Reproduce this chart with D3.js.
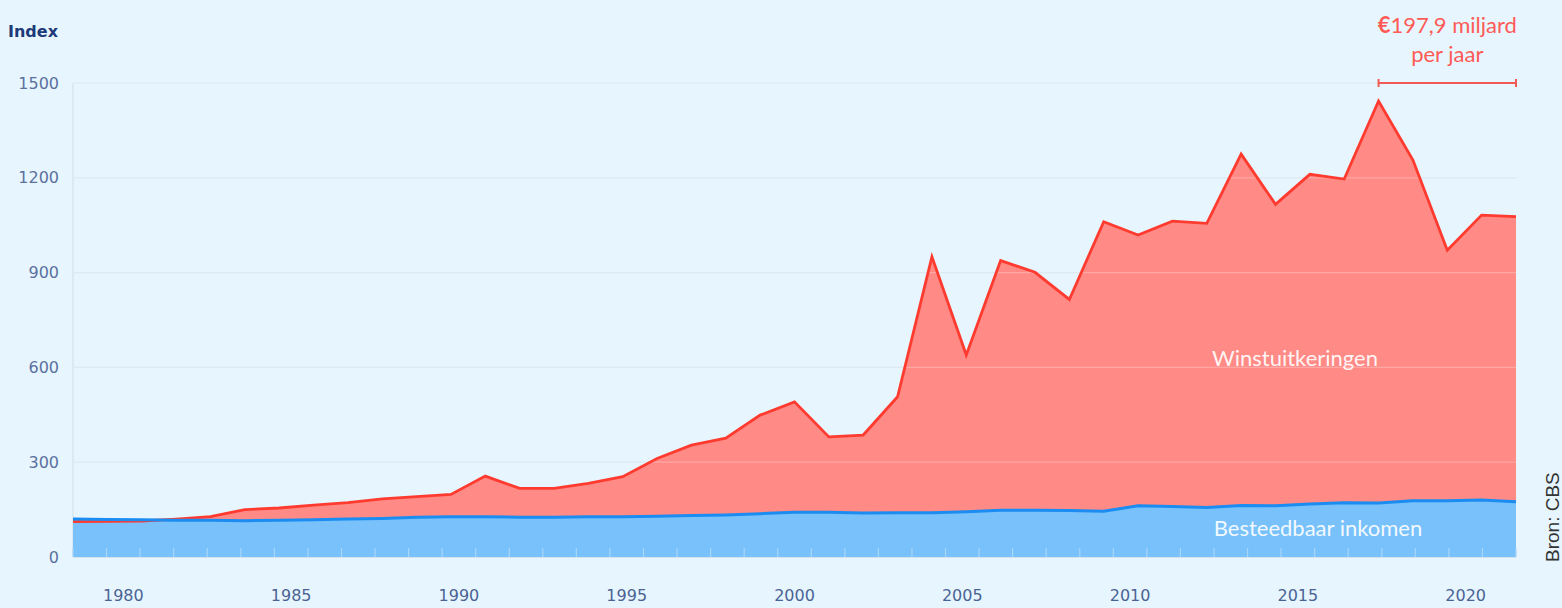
<!DOCTYPE html>
<html><head><meta charset="utf-8">
<script src="https://cdn.jsdelivr.net/npm/d3@7"></script>
<style>html,body{margin:0;padding:0;background:#e7f6fe;} svg{display:block}</style>
</head><body><svg id="c" width="1562" height="608"></svg>
<script>
const years = [1979,1980,1981,1982,1983,1984,1985,1986,1987,1988,1989,1990,1991,1992,1993,1994,1995,1996,1997,1998,1999,2000,2001,2002,2003,2004,2005,2006,2007,2008,2009,2010,2011,2012,2013,2014,2015,2016,2017,2018,2019,2020,2021];
const winstuitkeringen = [112,113,114,120,128,150,155,164,172,184,191,198,256,217,217,233,254,312,354,376,449,491,380,386,507,950,639,938,901,815,1061,1019,1063,1056,1275,1116,1211,1196,1443,1256,971,1082,1077];
const besteedbaar = [120,119,118,116,116,115,116,118,120,122,126,127,127,126,126,127,127,129,131,133,137,142,142,139,140,140,143,148,148,147,145,162,160,157,163,162,168,172,171,178,178,180,175];
const yTicks = [0,300,600,900,1200,1500];
const xLabels = [1980,1985,1990,1995,2000,2005,2010,2015,2020];
const bracketYears = [2017,2021];
const bracketValue = 1500;

const svg = d3.select('#c');
const L = 73, R = 1516, T = 83, B = 557;
const x = d3.scaleLinear().domain([years[0], years[years.length-1]]).range([L, R]);
const xb = d3.scaleBand().domain(years).range([L, R]);
const y = d3.scaleLinear().domain([0, 1500]).range([B, T]);

const data = years.map((yr,i)=>({yr, w:winstuitkeringen[i], b:besteedbaar[i]}));

svg.append('g').selectAll('line').data(yTicks).join('line')
  .attr('x1', L).attr('x2', R).attr('y1', d=>y(d)).attr('y2', d=>y(d))
  .attr('stroke', '#d3e3ec').attr('stroke-width', 1.2);
svg.append('line').attr('x1', L).attr('x2', L).attr('y1', T).attr('y2', B)
  .attr('stroke', '#d3e3ec').attr('stroke-width', 1.2);

const areaW = d3.area().x(d=>x(d.yr)).y0(y(0)).y1(d=>y(d.w));
const areaB = d3.area().x(d=>x(d.yr)).y0(y(0)).y1(d=>y(d.b));
const lineW = d3.line().x(d=>x(d.yr)).y(d=>y(d.w));
const lineB = d3.line().x(d=>x(d.yr)).y(d=>y(d.b));

svg.append('path').datum(data).attr('d', areaW).attr('fill', '#ff8a86');
svg.append('path').datum(data).attr('d', areaB).attr('fill', '#79c1fa');

svg.append('g').selectAll('line').data(yTicks.filter(d=>d>0)).join('line')
  .attr('x1', L).attr('x2', R).attr('y1', d=>y(d)).attr('y2', d=>y(d))
  .attr('stroke', '#ffffff').attr('stroke-opacity', 0.25).attr('stroke-width', 1.2);

svg.append('path').datum(data).attr('d', lineW).attr('fill', 'none')
  .attr('stroke', '#ff3b30').attr('stroke-width', 2.8).attr('stroke-linejoin', 'miter');
svg.append('path').datum(data).attr('d', lineB).attr('fill', 'none')
  .attr('stroke', '#1a8cf2').attr('stroke-width', 3);

const edges = years.map(d=>xb(d)).concat([R]);
svg.append('g').selectAll('line').data(edges).join('line')
  .attr('x1', d=>d).attr('x2', d=>d).attr('y1', B-9).attr('y2', B)
  .attr('stroke', '#a6d6fb').attr('stroke-width', 1.2);
svg.append('line').attr('x1', L).attr('x2', R).attr('y1', B+0.5).attr('y2', B+0.5)
  .attr('stroke', '#d3e3ec').attr('stroke-width', 1.2);

const ya = svg.append('g').attr('transform', `translate(${L},0)`)
  .call(d3.axisLeft(y).tickValues(yTicks).tickSize(0).tickPadding(14).tickFormat(d=>String(d)));
ya.select('.domain').remove();
ya.selectAll('text').attr('font-family', 'DejaVu Sans').attr('font-size', 16).attr('fill', '#5b70a0');

const xa = svg.append('g').attr('transform', `translate(0,587)`)
  .call(d3.axisBottom(xb).tickValues(xLabels).tickSize(0).tickPadding(3));
xa.select('.domain').remove();
xa.selectAll('text').attr('font-family', 'DejaVu Sans').attr('font-size', 16).attr('fill', '#4b6394');

svg.append('text').attr('x', 8).attr('y', 37).text('Index')
  .attr('font-family', 'DejaVu Sans').attr('font-weight', 'bold').attr('font-size', 16).attr('fill', '#1e3a78');

svg.append('text').attr('x', 1295).attr('y', 366).attr('text-anchor', 'middle')
  .attr('font-family', 'Lato').attr('font-size', 22).attr('fill', '#fff').attr('fill-opacity', 0.93)
  .text('Winstuitkeringen');
svg.append('text').attr('x', 1318).attr('y', 536).attr('text-anchor', 'middle')
  .attr('font-family', 'Lato').attr('font-size', 22).attr('fill', '#fff').attr('fill-opacity', 0.93)
  .text('Besteedbaar inkomen');

const bx1 = x(bracketYears[0]), bx2 = x(bracketYears[1]), by = y(bracketValue);
const br = svg.append('g').attr('stroke', '#f25a55').attr('stroke-width', 2);
br.append('line').attr('x1', bx1).attr('x2', bx2).attr('y1', by).attr('y2', by);
br.append('line').attr('x1', bx1).attr('x2', bx1).attr('y1', by-4).attr('y2', by+4);
br.append('line').attr('x1', bx2).attr('x2', bx2).attr('y1', by-4).attr('y2', by+4);

const ann = svg.append('text').attr('x', (bx1+bx2)/2).attr('y', 33).attr('text-anchor', 'middle')
  .attr('font-family', 'Lato').attr('font-size', 22).attr('fill', '#ff5a55');
ann.append('tspan').attr('font-weight', 'bold').text('€');
ann.append('tspan').text('197,9 miljard');
svg.append('text').attr('x', (bx1+bx2)/2).attr('y', 62).attr('text-anchor', 'middle')
  .attr('font-family', 'Lato').attr('font-size', 22).attr('fill', '#ff5a55').text('per jaar');

svg.append('text').attr('transform', 'translate(1559,562) rotate(-90)')
  .attr('font-family', 'Liberation Sans').attr('font-size', 19).attr('fill', '#333')
  .text('Bron: CBS');
</script></body></html>
